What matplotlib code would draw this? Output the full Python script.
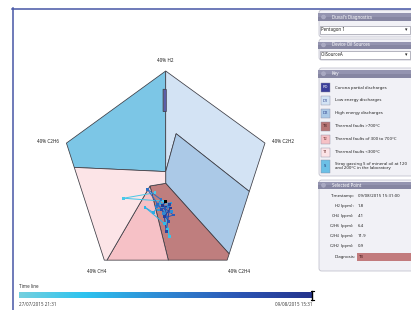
import matplotlib
matplotlib.use("Agg")
import matplotlib.pyplot as plt
import numpy as np
from matplotlib.patches import Polygon, Rectangle, FancyBboxPatch
from matplotlib.collections import LineCollection
from matplotlib.colors import LinearSegmentedColormap

plt.rcParams['font.family'] = ['Noto Sans', 'DejaVu Sans']

# ---------------- data ----------------
vertex_labels = ['40% H2', '40% C2H2', '40% C2H4', '40% CH4', '40% C2H6']
vertex_xy = [(0, 40), (38, 12.4), (23.5, -32.4), (-23.5, -32.4), (-38, 12.4)]

zone_names = ['S', 'D1', 'D2', 'T3', 'T2', 'T1', 'PD']
zone_colors = ['#7cc6e6', '#d3e3f4', '#abc9e7', '#bf7e7e', '#f6c1c6', '#fce4e7', '#5b5ea8']
zone_polys = [
    [(0, 1.5), (-35, 3.1), (-38, 12.4), (0, 40), (0, 33), (-1, 33), (-1, 24.5), (0, 24.5)],
    [(0, 40), (38, 12.4), (32, -6.1), (4, 16), (0, 1.5)],
    [(4, 16), (32, -6.1), (24.3, -30), (0, -3), (0, 1.5)],
    [(0, -3), (24.3, -30), (23.5, -32.4), (1, -32.4), (-6, -4)],
    [(-6, -4), (1, -32.4), (-22.5, -32.4)],
    [(-6, -4), (-22.5, -32.4), (-23.5, -32.4), (-35, 3.1), (0, 1.5), (0, -3)],
    [(0, 33), (-1, 33), (-1, 24.5), (0, 24.5)],
]

traj_x = [-4.1, -16.2, -1.0, 1.4, 0.6, -0.6, -7.9, -4.7, -2.2, 2.0, -2.8, 2.3, -0.9, 1.2,
          -3.4, -1.8, -7.0, -3.0, 0.5, 2.9, -0.3, 1.0, -1.5, 1.6, 0.2, -0.5, 1.9, -1.2, 0.0]
traj_y = [-6.6, -8.7, -9.8, -23.4, -20.6, -18.3, -12.2, -14.2, -10.7, -10.5, -13.2, -13.8, -14.5, -12.0,
          -11.9, -9.2, -5.3, -11.0, -16.0, -15.1, -12.5, -17.5, -13.0, -11.2, -21.5, -15.8, -12.4, -11.5, -10.0]

key_codes = ['PD', 'D1', 'D2', 'T3', 'T2', 'T1', 'S']
key_texts = ['Corona partial discharges', 'Low energy discharges', 'High energy discharges',
             'Thermal faults >700°C', 'Thermal faults of 300 to 700°C', 'Thermal faults <300°C',
             'Stray gassing S of mineral oil at 120\nand 200°C in the laboratory']
key_fill = ['#3b3f9a', '#d3e3f4', '#abc9e7', '#b77575', '#f6c1c6', '#fce4e7', '#6cc0e6']
key_tc = ['white', '#2b3f8a', '#2b3f8a', '#3a1a1a', '#6a2a2a', '#6a2a2a', '#1a2a6a']

sel_labels = ['Timestamp:', 'H$_2$ (ppm):', 'CH$_4$ (ppm):', 'C$_2$H$_6$ (ppm):',
              'C$_2$H$_4$ (ppm):', 'C$_2$H$_2$ (ppm):', 'Diagnosis:']
sel_values = ['09/08/2015 15:31:00', '1.8', '4.1', '6.4', '11.9', '0.9', 'T3']

time_start = '27/07/2015 21:31'
time_end = '09/08/2015 15:31'

# ---------------- figure ----------------
W, H = 411, 310
fig = plt.figure(figsize=(W / 100, H / 100), dpi=100)
fig.patch.set_facecolor('white')

ui = fig.add_axes([0, 0, 1, 1])
ui.set_xlim(0, W)
ui.set_ylim(H, 0)
ui.axis('off')

cmap = LinearSegmentedColormap.from_list('tl', [(0, '#74d0df'), (0.22, '#2cc3ef'),
                                               (0.5, '#2f86d2'), (0.75, '#2b55b4'), (1, '#25338c')])

# main frame
frame_c = '#4656a6'
ui.plot([12, W], [8.5, 8.5], color=frame_c, lw=1.1)
ui.plot([12.5, 12.5], [8, H], color=frame_c, lw=1.1)

# timeline
ui.text(19, 286, 'Time line', fontsize=3.3, color='#333333', va='center', ha='left')
grad = np.linspace(0, 1, 400).reshape(1, -1)
ui.imshow(grad, cmap=cmap, extent=[19, 312, 298.5, 292.5], aspect='auto', zorder=2)
ui.plot([312, 312], [291, 300], color='black', lw=1.0, zorder=3)
ui.plot([310.5, 313.5], [291, 291], color='black', lw=0.8, zorder=3)
ui.plot([310.5, 313.5], [300, 300], color='black', lw=0.8, zorder=3)
ui.text(19, 305, time_start, fontsize=3.3, color='#444444', va='center', ha='left')
ui.text(312, 305, time_end, fontsize=3.3, color='#444444', va='center', ha='right')


# right panel
def section(y0, y1):
    ui.add_patch(FancyBboxPatch((319, y0), 100, y1 - y0,
                                boxstyle='round,pad=0,rounding_size=2.5',
                                fc='#f1f1f6', ec='#b9b9c6', lw=0.5, zorder=1))


def header(y0, y1, text):
    ui.add_patch(Rectangle((318, y0), 95, y1 - y0, fc='#8686a2', ec='none', zorder=2))
    ui.add_patch(Rectangle((318, y0), 95, (y1 - y0) / 2, fc='#9494b0', ec='none', zorder=2))
    ui.add_patch(plt.Circle((323.5, (y0 + y1) / 2), 2.0, fc='#a9a9c2', ec='#b8b8cc', lw=0.3, zorder=3))
    ui.text(332, (y0 + y1) / 2, text, fontsize=3.2, color='white', fontweight='bold',
            va='center', ha='left', zorder=4)


def dropdown(y0, y1, text):
    ui.add_patch(Rectangle((319.5, y0), 90, y1 - y0, fc='white', ec='#9a9aa8', lw=0.5, zorder=3))
    ui.text(321, (y0 + y1) / 2, text, fontsize=3.2, color='#222222', va='center', ha='left', zorder=4)
    ui.text(406, (y0 + y1) / 2, '▾', fontsize=3.5, color='#222222', va='center', ha='center',
            family='DejaVu Sans', zorder=4)


section(10, 37)
header(13, 21, "Duval's Diagnostics")
dropdown(25.5, 33.5, 'Pentagon 1')

section(39, 60)
header(41.5, 48.5, 'Device Oil Sources')
dropdown(50.5, 58.5, 'OilSourceA')

section(68, 176)
header(70, 77.5, 'Key')
key_y = [87.5, 100.5, 113, 126, 139, 152, 166]
for i, (code, txt) in enumerate(zip(key_codes, key_texts)):
    cy = key_y[i]
    h = 13 if code == 'S' else 9
    ui.add_patch(Rectangle((321, cy - h / 2), 8.5, h, fc=key_fill[i], ec='#8a8aa0', lw=0.3, zorder=3))
    ui.text(325.25, cy, code, fontsize=3.0, color=key_tc[i], fontweight='bold',
            va='center', ha='center', zorder=4)
    ui.text(335, cy, txt, fontsize=3.1, color='#222222', va='center', ha='left',
            linespacing=1.3, zorder=4)

section(180, 271)
header(181.5, 189, 'Selected Point')
sel_y = [196, 206, 216.3, 226, 236, 246, 257]
for i, (lab, val) in enumerate(zip(sel_labels, sel_values)):
    cy = sel_y[i]
    ui.text(355, cy, lab, fontsize=3.1, color='#222222', va='center', ha='right', zorder=4)
    if lab.startswith('Diagnosis'):
        ui.add_patch(Rectangle((357, cy - 4), 56, 8, fc='#c27b7d', ec='none', zorder=3))
        ui.text(359, cy, val, fontsize=3.1, color='#3a1010', fontweight='bold',
                va='center', ha='left', zorder=4)
    else:
        ui.text(358, cy, val, fontsize=3.1, color='#222222', va='center', ha='left', zorder=4)

# ---------------- pentagon ----------------
cx, cy0, s = 165.7, 175.5, 2.6125
ax = fig.add_axes([0, 0, 1, 1])
ax.set_xlim((0 - cx) / s, (W - cx) / s)
ax.set_ylim((cy0 - H) / s, cy0 / s)
ax.patch.set_alpha(0)
ax.axis('off')

for name, col, poly in zip(zone_names, zone_colors, zone_polys):
    lw = 0.4 if name == 'PD' else 0.55
    ax.add_patch(Polygon(poly, closed=True, fc=col, ec='#3c3c44', lw=lw, zorder=2))

label_off = [(0, 4.0), (7.0, 0.5), (4.5, -4.5), (-3.0, -4.5), (-7.0, 0.5)]
for lab, (vx, vy), (dx, dy) in zip(vertex_labels, vertex_xy, label_off):
    ax.text(vx + dx, vy + dy, lab, fontsize=3.3, color='#222222', ha='center', va='center', zorder=5)

tx = np.array(traj_x)
ty = np.array(traj_y)
n = len(tx)
tcol = cmap(np.linspace(0.1, 1.0, n))
segs = [[(tx[i], ty[i]), (tx[i + 1], ty[i + 1])] for i in range(n - 1)]
lc = LineCollection(segs, colors=tcol[1:], linewidths=0.7, zorder=6)
ax.add_collection(lc)
ax.scatter(tx[:-1], ty[:-1], s=4.0, c=tcol[:-1], marker='s', edgecolors='none', zorder=7)
ax.scatter(tx[-1:], ty[-1:], s=6.0, c='black', marker='s', edgecolors='none', zorder=8)

fig.savefig('out.png', dpi=100, facecolor='white')
